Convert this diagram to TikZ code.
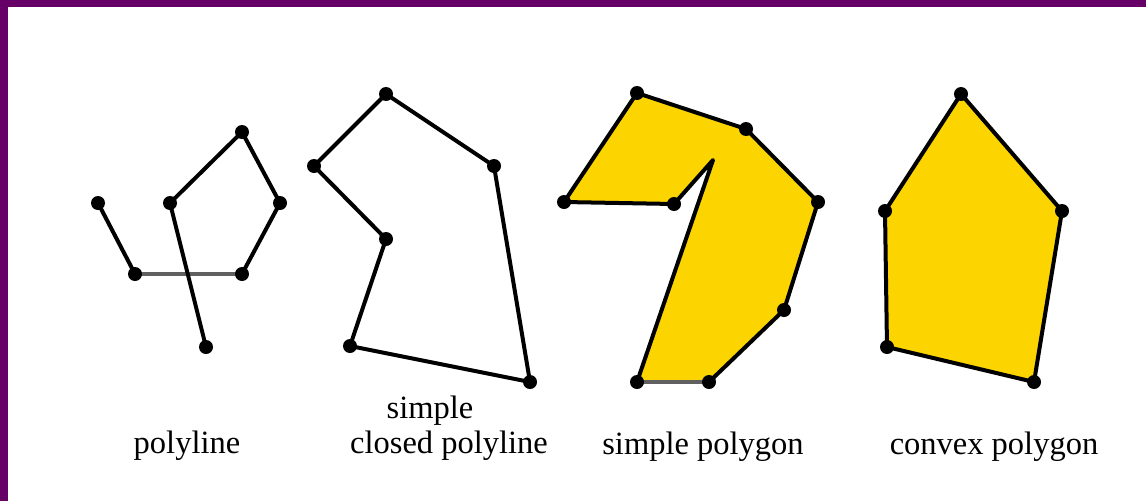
\documentclass[tikz,border=0pt]{standalone}
\usepackage{fontspec}
\setmainfont{Liberation Serif}
\definecolor{frame}{HTML}{660066}
\definecolor{gold}{HTML}{FCD500}
\definecolor{edgegray}{HTML}{606060}
\begin{document}
\begin{tikzpicture}[x=1pt,y=-1pt,
  edge/.style={line width=4pt,line join=round},
  vtx/.style={circle,fill=black,inner sep=0pt,minimum size=14pt},
  lbl/.style={font=\fontsize{32.5}{36}\selectfont,anchor=base,inner sep=0pt}]
\useasboundingbox (0,0) rectangle (1146,501);
\fill[white] (0,0) rectangle (1146,501);
\fill[frame] (0,0) rectangle (1146,7);
\fill[frame] (0,0) rectangle (8,501);
% polyline
\coordinate (A) at (98,203);
\coordinate (B) at (135,274);
\coordinate (C) at (242,274);
\coordinate (D) at (280,203);
\coordinate (E) at (242,132);
\coordinate (F) at (170,203);
\coordinate (G) at (206,347);
\draw[edge] (A) -- (B);
\draw[edge,edgegray] (B) -- (C);
\draw[edge] (C) -- (D) -- (E) -- (F) -- (G);
\foreach \p in {A,B,C,D,E,F,G} \node[vtx] at (\p) {};
% simple closed polyline
\coordinate (P1) at (386,94);
\coordinate (P2) at (494,166);
\coordinate (P3) at (530,382);
\coordinate (P4) at (350,346);
\coordinate (P5) at (386,239);
\coordinate (P6) at (314,166);
\draw[edge] (P1) -- (P2) -- (P3) -- (P4) -- (P5) -- (P6) -- cycle;
\foreach \p in {P1,P2,P3,P4,P5,P6} \node[vtx] at (\p) {};
% simple polygon
\coordinate (Q1) at (637,93);
\coordinate (Q2) at (746,129);
\coordinate (Q3) at (818,202);
\coordinate (Q4) at (784,310);
\coordinate (Q5) at (709,382);
\coordinate (Q6) at (637,382);
\coordinate (Q7) at (713,160);
\coordinate (Q8) at (674,204);
\coordinate (Q9) at (564,202);
\fill[gold] (Q1) -- (Q2) -- (Q3) -- (Q4) -- (Q5) -- (Q6) -- (Q7) -- (Q8) -- (Q9) -- cycle;
\draw[edge] (Q5) -- (Q4) -- (Q3) -- (Q2) -- (Q1) -- (Q9) -- (Q8) -- (Q7) -- (Q6);
\draw[edge,edgegray] (Q6) -- (Q5);
\foreach \p in {Q1,Q2,Q3,Q4,Q5,Q6,Q8,Q9} \node[vtx] at (\p) {};
% convex polygon
\coordinate (R1) at (961,94);
\coordinate (R2) at (1062,211);
\coordinate (R3) at (1034,382);
\coordinate (R4) at (887,347);
\coordinate (R5) at (885,211);
\filldraw[edge,fill=gold] (R1) -- (R2) -- (R3) -- (R4) -- (R5) -- cycle;
\foreach \p in {R1,R2,R3,R4,R5} \node[vtx] at (\p) {};
% labels
\node[lbl] (l1) at (187,453) {polyline};
\node[lbl] (l2a) at (430,418) {simple};
\node[lbl] (l2b) at (449,453) {closed polyline};
\node[lbl] (l3) at (703,454) {simple polygon};
\node[lbl] (l4) at (994,454) {convex polygon};
\end{tikzpicture}
\end{document}
